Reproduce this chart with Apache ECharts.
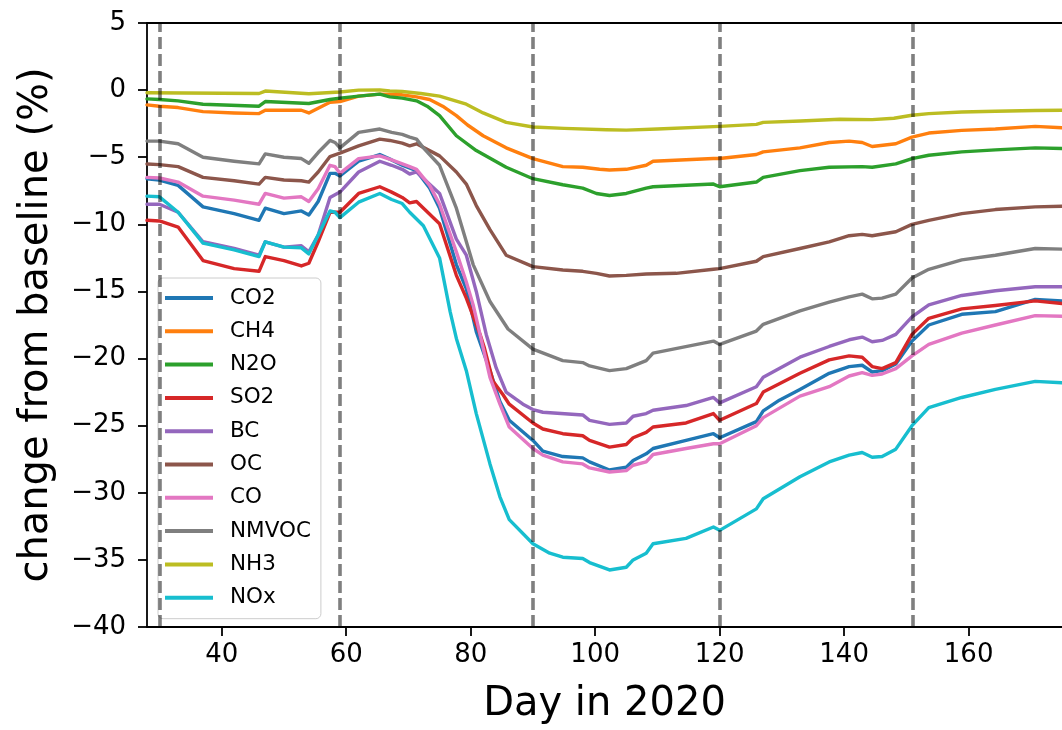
<!DOCTYPE html>
<html>
<head>
<meta charset="utf-8">
<script src="https://cdn.jsdelivr.net/npm/echarts@6/dist/echarts.min.js"></script>
<style>
  html, body { margin: 0; padding: 0; background: #fff; }
  #chart { width: 1062px; height: 730px; }
</style>
</head>
<body>
<div id="chart"></div>
<script>
// Emission change relative to baseline, [day of year, % change]
const co2 = [[28,-6.6],[30,-6.7],[33,-7.1],[37,-8.7],[42,-9.2],[46,-9.7],[47,-8.8],[50,-9.2],[52.8,-9.0],[54,-9.3],[55.5,-8.3],[57.4,-6.2],[58.2,-6.2],[59,-6.4],[62,-5.3],[65.4,-4.8],[67.3,-5.2],[69,-5.6],[71.3,-6.0],[73.4,-7.3],[75,-8.8],[77.7,-13.0],[79.3,-14.8],[80.9,-18.0],[83.1,-20.9],[84.7,-23.2],[86.2,-24.6],[90,-26.1],[91.6,-26.9],[94.8,-27.3],[98,-27.4],[99.1,-27.7],[102.3,-28.3],[105,-28.1],[106.1,-27.6],[108.2,-27.1],[109.3,-26.7],[114.6,-26.1],[119,-25.6],[120,-25.9],[125.9,-24.7],[127,-23.9],[129.6,-23.1],[132.9,-22.3],[137.6,-21.1],[140.8,-20.6],[142.9,-20.5],[144.5,-21.0],[146.1,-20.9],[148.3,-20.4],[150.9,-18.7],[153.6,-17.5],[158.9,-16.7],[164.3,-16.5],[170.7,-15.6],[175,-15.7]];
const ch4 = [[28,-1.1],[30,-1.2],[33,-1.3],[37,-1.6],[42,-1.7],[46,-1.75],[47,-1.5],[52.8,-1.5],[54,-1.7],[57.4,-0.9],[59,-0.85],[62,-0.45],[65.4,-0.3],[69,-0.35],[71.3,-0.5],[73.4,-0.7],[75.5,-1.2],[77.7,-1.9],[79.5,-2.6],[82,-3.4],[85.7,-4.3],[90,-5.1],[94.8,-5.7],[98,-5.75],[100.7,-5.9],[102.3,-5.95],[105,-5.9],[108.2,-5.6],[109.3,-5.3],[119,-5.1],[120,-5.1],[125.9,-4.8],[127,-4.6],[132.9,-4.3],[137.6,-3.9],[140.8,-3.8],[142.9,-3.9],[144.5,-4.2],[148.3,-4.0],[150.9,-3.5],[153.6,-3.2],[158.9,-3.0],[164.3,-2.9],[170.7,-2.7],[175,-2.8]];
const n2o = [[28,-0.65],[30,-0.7],[33,-0.8],[37,-1.05],[46,-1.2],[47,-0.85],[54,-1.0],[57.4,-0.7],[59,-0.6],[62,-0.45],[65.4,-0.3],[67,-0.5],[69,-0.6],[71.3,-0.8],[73,-1.2],[75,-1.9],[77.7,-3.4],[80.9,-4.5],[85.7,-5.75],[90,-6.6],[94.8,-7.05],[98,-7.3],[100.2,-7.7],[102.3,-7.85],[105,-7.7],[108.2,-7.3],[109.3,-7.2],[119,-7.0],[120,-7.2],[125.9,-6.85],[127,-6.5],[132.9,-6.0],[137.6,-5.75],[142.9,-5.7],[144.5,-5.75],[148.3,-5.5],[150.9,-5.1],[153.6,-4.85],[158.9,-4.6],[164.3,-4.45],[170.7,-4.3],[175,-4.35]];
const so2 = [[28,-9.7],[30,-9.75],[33,-10.2],[37,-12.7],[42,-13.3],[46,-13.5],[47,-12.4],[50,-12.7],[52.8,-13.1],[54,-12.9],[55.5,-11.3],[57.4,-9.1],[59,-9.1],[62,-7.7],[65.4,-7.2],[67.3,-7.6],[69,-8.0],[70.2,-8.4],[71.3,-8.3],[75,-9.95],[77.7,-13.8],[79.3,-15.5],[81.5,-18.2],[82.2,-19.2],[83.6,-21.7],[85.2,-22.7],[86.2,-23.4],[90,-24.8],[91.6,-25.25],[94.8,-25.6],[98,-25.75],[99.1,-26.1],[102.3,-26.6],[105,-26.4],[106.1,-25.9],[108.2,-25.5],[109.3,-25.1],[114.6,-24.8],[119,-24.1],[120,-24.6],[125.9,-23.35],[127,-22.5],[132.9,-21.1],[137.6,-20.1],[140.8,-19.8],[142.9,-19.9],[144.5,-20.6],[146.1,-20.75],[148.3,-20.3],[150.9,-18.2],[153.6,-17.0],[158.9,-16.3],[164.3,-16.05],[170.7,-15.7],[175,-15.9]];
const bc = [[28,-8.5],[30,-8.5],[33,-9.1],[37,-11.3],[42,-11.8],[46,-12.3],[47,-11.3],[50,-11.7],[52.8,-11.6],[54,-12.05],[55.5,-10.8],[57.4,-8.0],[59,-7.6],[62,-6.1],[65.4,-5.3],[67.3,-5.6],[69,-5.9],[70.2,-6.25],[71.3,-6.1],[75,-7.7],[77.7,-11.1],[79.3,-12.3],[80.9,-15.0],[82.5,-18.2],[84.1,-20.7],[85.7,-22.5],[88.4,-23.4],[90,-23.8],[91.6,-24.0],[98,-24.2],[99.1,-24.6],[102.3,-24.9],[105,-24.8],[106.1,-24.3],[108.2,-24.1],[109.3,-23.85],[114.6,-23.5],[119,-22.9],[120,-23.3],[125.9,-22.1],[127,-21.4],[132.9,-19.9],[137.6,-19.1],[140.8,-18.6],[142.9,-18.4],[144.5,-18.75],[146.1,-18.65],[148.3,-18.2],[150.9,-16.9],[153.6,-16.0],[158.9,-15.3],[164.3,-14.95],[170.7,-14.65],[175,-14.65]];
const oc = [[28,-5.5],[30,-5.55],[33,-5.7],[37,-6.5],[42,-6.75],[46,-7.0],[47,-6.5],[50,-6.7],[52.8,-6.75],[54,-6.85],[55.5,-6.1],[57.4,-4.95],[59,-4.7],[62,-4.15],[65.4,-3.65],[67,-3.75],[69,-3.95],[70.2,-4.15],[71.3,-4.0],[75,-4.9],[77.7,-6.1],[79.3,-7.0],[80.9,-8.6],[83.1,-10.4],[85.7,-12.3],[90,-13.15],[94.8,-13.4],[98,-13.5],[100.2,-13.65],[102.3,-13.85],[105,-13.8],[108.2,-13.7],[113,-13.65],[119,-13.35],[120,-13.3],[125.9,-12.75],[127,-12.4],[132.9,-11.8],[137.6,-11.3],[140.8,-10.85],[142.9,-10.75],[144.5,-10.85],[148.3,-10.55],[150.9,-10.0],[153.6,-9.7],[158.9,-9.2],[164.3,-8.9],[170.7,-8.7],[175,-8.65]];
const co = [[28,-6.5],[30,-6.55],[33,-6.85],[37,-7.9],[42,-8.2],[46,-8.5],[47,-7.7],[50,-8.05],[52.8,-7.95],[54,-8.3],[55.5,-7.35],[57.4,-5.6],[58.2,-5.7],[59,-6.2],[62,-5.1],[65.4,-4.9],[67.3,-5.2],[70.2,-5.7],[71.3,-5.9],[73.4,-7.1],[75,-8.5],[77.7,-12.05],[79.3,-14.3],[80.4,-16.0],[81.5,-18.2],[83.1,-21.4],[84.7,-23.4],[86.2,-25.1],[90,-26.7],[91.6,-27.2],[94.8,-27.7],[98,-27.85],[99.1,-28.15],[102.3,-28.45],[105,-28.35],[106.1,-27.95],[108.2,-27.7],[109.3,-27.15],[114.6,-26.7],[119,-26.35],[120,-26.35],[125.9,-25.0],[127,-24.4],[132.9,-22.8],[137.6,-22.1],[140.8,-21.3],[142.9,-21.05],[144.5,-21.25],[146.1,-21.15],[148.3,-20.75],[150.9,-19.8],[153.6,-18.95],[158.9,-18.1],[164.3,-17.5],[170.7,-16.8],[175,-16.85]];
const nmvoc = [[28,-3.8],[30,-3.8],[33,-4.0],[37,-5.0],[42,-5.3],[46,-5.5],[47,-4.75],[50,-5.0],[52.8,-5.1],[54,-5.45],[55.5,-4.65],[57.4,-3.75],[58.2,-3.9],[59,-4.3],[62,-3.15],[65.4,-2.9],[67.3,-3.15],[69,-3.3],[70.2,-3.5],[71.3,-3.65],[72.4,-4.3],[75,-5.6],[77.7,-8.8],[80.4,-13.0],[83.1,-15.75],[86,-17.8],[90,-19.3],[94.8,-20.15],[98,-20.3],[99.1,-20.55],[102.3,-20.9],[105,-20.75],[108.2,-20.15],[109.3,-19.6],[119,-18.7],[120,-18.95],[125.9,-17.95],[127,-17.45],[132.9,-16.45],[137.6,-15.8],[140.8,-15.4],[142.9,-15.2],[144.5,-15.55],[146.1,-15.5],[148.3,-15.2],[150.9,-14.0],[153.6,-13.35],[158.9,-12.65],[164.3,-12.3],[170.7,-11.8],[175,-11.85]];
const nh3 = [[28,-0.2],[46,-0.25],[47,-0.07],[54,-0.27],[59,-0.14],[62,0.0],[65.4,0.02],[67,-0.07],[69,-0.1],[72,-0.25],[75,-0.45],[79.3,-1.05],[82,-1.7],[85.7,-2.4],[90,-2.75],[95,-2.85],[101.8,-2.95],[105,-2.98],[110,-2.9],[120,-2.7],[125.9,-2.55],[127,-2.4],[133,-2.3],[139.3,-2.17],[144.5,-2.2],[148,-2.1],[150.9,-1.87],[153.6,-1.75],[158.9,-1.63],[164.3,-1.57],[170.7,-1.52],[175,-1.5]];
const nox = [[28,-7.9],[30,-7.95],[33,-9.1],[37,-11.4],[42,-11.9],[46,-12.4],[47,-11.3],[50,-11.7],[52.8,-11.75],[54,-12.2],[55.5,-10.8],[57.4,-9.0],[58.2,-9.1],[59,-9.5],[62,-8.35],[65.4,-7.7],[67.3,-8.15],[69,-8.45],[70.2,-9.1],[72.4,-10.1],[75,-12.5],[76.7,-16.5],[77.7,-18.5],[79.3,-20.9],[80.9,-24.1],[83.1,-27.85],[84.7,-30.3],[86.2,-32.0],[90,-33.8],[92.7,-34.5],[94.8,-34.8],[98,-34.9],[99.1,-35.2],[102.3,-35.75],[105,-35.55],[106.1,-35.0],[108.2,-34.5],[109.3,-33.8],[114.6,-33.4],[119,-32.55],[120,-32.8],[125.9,-31.2],[127,-30.45],[132.9,-28.8],[137.6,-27.7],[140.8,-27.2],[142.9,-27.0],[144.5,-27.35],[146.1,-27.3],[148.3,-26.75],[150.9,-25.0],[153.6,-23.65],[158.9,-22.9],[164.3,-22.3],[170.7,-21.7],[175,-21.8]];

const speciesNames = ['CO2','CH4','N2O','SO2','BC','OC','CO','NMVOC','NH3','NOx'];
const speciesData = [co2, ch4, n2o, so2, bc, oc, co, nmvoc, nh3, nox];
const colors = ['#1f77b4','#ff7f0e','#2ca02c','#d62728','#9467bd','#8c564b','#e377c2','#7f7f7f','#bcbd22','#17becf'];

// Month boundaries marked with dashed verticals
const markerDays = [30, 59, 90, 120, 151];
const xTicks = [40, 60, 80, 100, 120, 140, 160];

const FONT = 'DejaVu Sans';

const series = speciesNames.map((name, i) => ({
  name: name,
  type: 'line',
  xAxisIndex: 0,
  data: speciesData[i],
  symbol: 'none',
  showSymbol: false,
  lineStyle: { color: colors[i], width: 3.4, join: 'round', cap: 'round' },
  itemStyle: { color: colors[i] },
  emphasis: { disabled: true }
}));

series[series.length - 1].markLine = {
  silent: true,
  symbol: ['none', 'none'],
  label: { show: false },
  lineStyle: { color: 'rgba(0,0,0,0.5)', type: [12, 5], width: 3.6 },
  emphasis: { disabled: true },
  data: markerDays.map(d => ({ xAxis: d }))
};

const chart = echarts.init(document.getElementById('chart'), null, { renderer: 'canvas', width: 1062, height: 730 });
chart.setOption({
  animation: false,
  backgroundColor: '#ffffff',
  grid: { left: 147, top: 23, right: 0, bottom: 99, containLabel: false },
  legend: {
    data: speciesNames,
    orient: 'vertical',
    left: 158,
    top: 278,
    icon: 'rect',
    itemWidth: 48,
    itemHeight: 4,
    itemGap: 11.3,
    padding: [9, 10, 10, 7],
    backgroundColor: 'rgba(255,255,255,0.8)',
    borderColor: '#cccccc',
    borderWidth: 1,
    borderRadius: 5,
    selectedMode: false,
    textStyle: { fontFamily: FONT, fontSize: 21.5, color: '#000', lineHeight: 22, padding: [0, 0, 0, 12] }
  },
  xAxis: [
    {
      type: 'value',
      min: 28,
      max: 175,
      position: 'bottom',
      name: 'Day in 2020',
      nameLocation: 'middle',
      nameGap: 58,
      nameTextStyle: { fontFamily: FONT, fontSize: 40, color: '#000' },
      axisLine: { show: true, onZero: false, lineStyle: { color: '#000', width: 1.8 } },
      axisTick: { show: true, length: 9, lineStyle: { color: '#000', width: 1.8 }, customValues: xTicks },
      axisLabel: { fontFamily: FONT, fontSize: 26, color: '#000', margin: 15, customValues: xTicks },
      splitLine: { show: false }
    },
    {
      type: 'value',
      min: 28,
      max: 175,
      position: 'top',
      axisLine: { show: true, onZero: false, lineStyle: { color: '#000', width: 1.8 } },
      axisTick: { show: false },
      axisLabel: { show: false },
      splitLine: { show: false }
    }
  ],
  yAxis: {
    type: 'value',
    min: -40,
    max: 5,
    interval: 5,
    name: 'change from baseline (%)',
    nameLocation: 'middle',
    nameRotate: 90,
    nameGap: 90,
    nameTextStyle: { fontFamily: FONT, fontSize: 40, color: '#000' },
    axisLine: { show: true, onZero: false, lineStyle: { color: '#000', width: 1.8 } },
    axisTick: { show: true, length: 9, lineStyle: { color: '#000', width: 1.8 } },
    axisLabel: {
      fontFamily: FONT, fontSize: 26, color: '#000', margin: 21,
      formatter: v => String(v).replace('-', '\u2212')
    },
    splitLine: { show: false }
  },
  series: series
});
</script>
</body>
</html>
